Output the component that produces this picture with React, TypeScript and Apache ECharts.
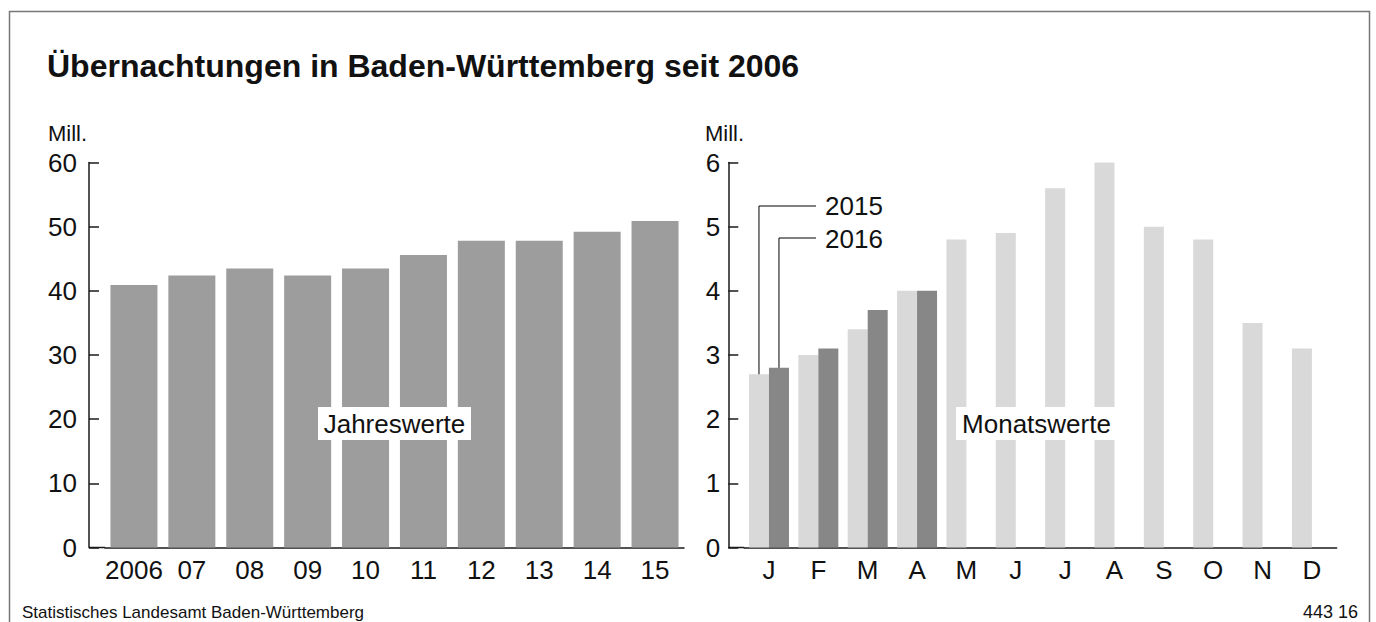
import React, { useEffect, useRef } from "react";
import * as echarts from "echarts";

// ---- data ----
const yearCategories = ["2006", "07", "08", "09", "10", "11", "12", "13", "14", "15"];
const yearValues = [40.9, 42.4, 43.5, 42.4, 43.5, 45.6, 47.8, 47.8, 49.2, 50.9];
const yearAxisTicks = { min: 0, max: 60, interval: 10 };

const monthKeys = ["Jan", "Feb", "Mar", "Apr", "May", "Jun", "Jul", "Aug", "Sep", "Oct", "Nov", "Dec"];
const monthLabels = ["J", "F", "M", "A", "M", "J", "J", "A", "S", "O", "N", "D"];
const values2015 = [2.7, 3.0, 3.4, 4.0, 4.8, 4.9, 5.6, 6.0, 5.0, 4.8, 3.5, 3.1];
const values2016 = [2.8, 3.1, 3.7, 4.0, null, null, null, null, null, null, null, null];
const monthAxisTicks = { min: 0, max: 6, interval: 1 };

const seriesNames = ["2015", "2016"];
const titleText = "Übernachtungen in Baden-Württemberg seit 2006";
const unitText = "Mill.";
const yearNote = "Jahreswerte";
const monthNote = "Monatswerte";
const sourceText = "Statistisches Landesamt Baden-Württemberg";
const codeText = "443 16";

// ---- layout / style ----
const W = 1376;
const H = 622;
const FONT = '"Liberation Sans", Arial, Helvetica, sans-serif';
const TXT = "#111";
const GRID_TOP = 162.5;
const GRID_BOTTOM = 74.5;
const G0_LEFT = 105;
const G0_RIGHT = W - 684;
const G1_LEFT = 744.3;
const G1_RIGHT = W - 1336.6;
const AX_OFFSET = 16;
const MONTH_BAR_W = 20;

export default function App() {
  const ref = useRef<HTMLDivElement>(null);

  useEffect(() => {
    document.body.style.margin = "0";
    if (!ref.current) return;
    const chart = echarts.init(ref.current, null, { renderer: "svg" });

    const axisLineStyle = { color: "#1a1a1a", width: 1.5 };
    const labelStyle = { fontSize: 26, color: TXT, fontFamily: FONT };

    chart.setOption({
      animation: false,
      textStyle: { fontFamily: FONT },
      title: {
        text: titleText,
        left: 47,
        top: 50,
        padding: 0,
        textStyle: { fontSize: 32, fontWeight: "bold", color: TXT, fontFamily: FONT },
      },
      grid: [
        { left: G0_LEFT, right: G0_RIGHT, top: GRID_TOP, bottom: GRID_BOTTOM },
        { left: G1_LEFT, right: G1_RIGHT, top: GRID_TOP, bottom: GRID_BOTTOM },
      ],
      xAxis: [
        {
          type: "category",
          gridIndex: 0,
          data: yearCategories,
          axisLine: { lineStyle: axisLineStyle },
          axisTick: { show: false },
          axisLabel: { ...labelStyle, interval: 0, margin: 9 },
        },
        {
          type: "category",
          gridIndex: 1,
          data: monthKeys,
          axisLine: { lineStyle: axisLineStyle },
          axisTick: { show: false },
          axisLabel: {
            ...labelStyle,
            interval: 0,
            margin: 9,
            formatter: (_v: string, i: number) => monthLabels[i],
          },
        },
      ],
      yAxis: [
        {
          type: "value",
          gridIndex: 0,
          ...yearAxisTicks,
          offset: AX_OFFSET,
          axisLine: { show: true, lineStyle: axisLineStyle },
          axisTick: { show: true, inside: true, length: 10, lineStyle: axisLineStyle },
          axisLabel: { ...labelStyle, margin: 12 },
          splitLine: { show: false },
        },
        {
          type: "value",
          gridIndex: 1,
          ...monthAxisTicks,
          offset: AX_OFFSET,
          axisLine: { show: true, lineStyle: axisLineStyle },
          axisTick: { show: true, inside: true, length: 10, lineStyle: axisLineStyle },
          axisLabel: { ...labelStyle, margin: 8 },
          splitLine: { show: false },
        },
      ],
      series: [
        {
          type: "bar",
          xAxisIndex: 0,
          yAxisIndex: 0,
          data: yearValues,
          barWidth: 47,
          itemStyle: { color: "#9d9d9d" },
        },
        {
          name: seriesNames[0],
          type: "bar",
          xAxisIndex: 1,
          yAxisIndex: 1,
          data: values2015,
          barWidth: MONTH_BAR_W,
          barGap: "0%",
          itemStyle: { color: "#d9d9d9" },
        },
        {
          name: seriesNames[1],
          type: "bar",
          xAxisIndex: 1,
          yAxisIndex: 1,
          data: values2016,
          barWidth: MONTH_BAR_W,
          barGap: "0%",
          itemStyle: { color: "#878787" },
        },
      ],
    });

    const zeroY = chart.convertToPixel({ gridIndex: 0 }, [0, 0])[1];
    const p15 = chart.convertToPixel({ gridIndex: 1 }, [0, values2015[0]]);
    const p16 = chart.convertToPixel({ gridIndex: 1 }, [0, values2016[0] as number]);
    const x15 = p15[0] - MONTH_BAR_W / 2;
    const x16 = p16[0] + MONTH_BAR_W / 2;
    const leg15Y = 206;
    const leg16Y = 238;
    const legEndX = 816;

    const lineStyle = { stroke: "#000", lineWidth: 1, fill: null };
    const txt = (text: string, x: number, y: number, size: number, align = "left") => ({
      type: "text",
      x,
      y,
      z: 100,
      silent: true,
      style: {
        text,
        fill: TXT,
        font: `${size}px ${FONT}`,
        textAlign: align,
        textVerticalAlign: "middle",
      },
    });

    chart.setOption({
      graphic: [
        {
          type: "rect",
          silent: true,
          shape: { x: 9.5, y: 11.5, width: 1360, height: 700 },
          style: { fill: "none", stroke: "#777", lineWidth: 1.5 },
        },
        {
          type: "line",
          silent: true,
          z: 50,
          shape: { x1: G0_LEFT - AX_OFFSET, y1: zeroY, x2: G0_LEFT, y2: zeroY },
          style: { stroke: "#1a1a1a", lineWidth: 1.5 },
        },
        {
          type: "line",
          silent: true,
          z: 50,
          shape: { x1: G1_LEFT - AX_OFFSET, y1: zeroY, x2: G1_LEFT, y2: zeroY },
          style: { stroke: "#1a1a1a", lineWidth: 1.5 },
        },
        txt(unitText, 48, 133, 22),
        txt(unitText, 705, 133, 22),
        {
          type: "rect",
          silent: true,
          z: 99,
          shape: { x: 318, y: 407, width: 153, height: 33 },
          style: { fill: "#fff" },
        },
        txt(yearNote, 394.5, 424, 26, "center"),
        {
          type: "rect",
          silent: true,
          z: 99,
          shape: { x: 956, y: 407, width: 160, height: 33 },
          style: { fill: "#fff" },
        },
        txt(monthNote, 1036.5, 424, 26, "center"),
        {
          type: "polyline",
          silent: true,
          z: 100,
          shape: { points: [[x15, p15[1]], [x15, leg15Y], [legEndX, leg15Y]] },
          style: lineStyle,
        },
        {
          type: "polyline",
          silent: true,
          z: 100,
          shape: { points: [[x16, p16[1]], [x16, leg16Y], [legEndX, leg16Y]] },
          style: lineStyle,
        },
        txt(seriesNames[0], 825, leg15Y, 26),
        txt(seriesNames[1], 825, leg16Y + 1, 26),
        txt(sourceText, 22, 612, 17),
        txt(codeText, 1358, 612, 18, "right"),
      ],
    });

    return () => chart.dispose();
  }, []);

  return <div ref={ref} style={{ width: W, height: H }} />;
}
